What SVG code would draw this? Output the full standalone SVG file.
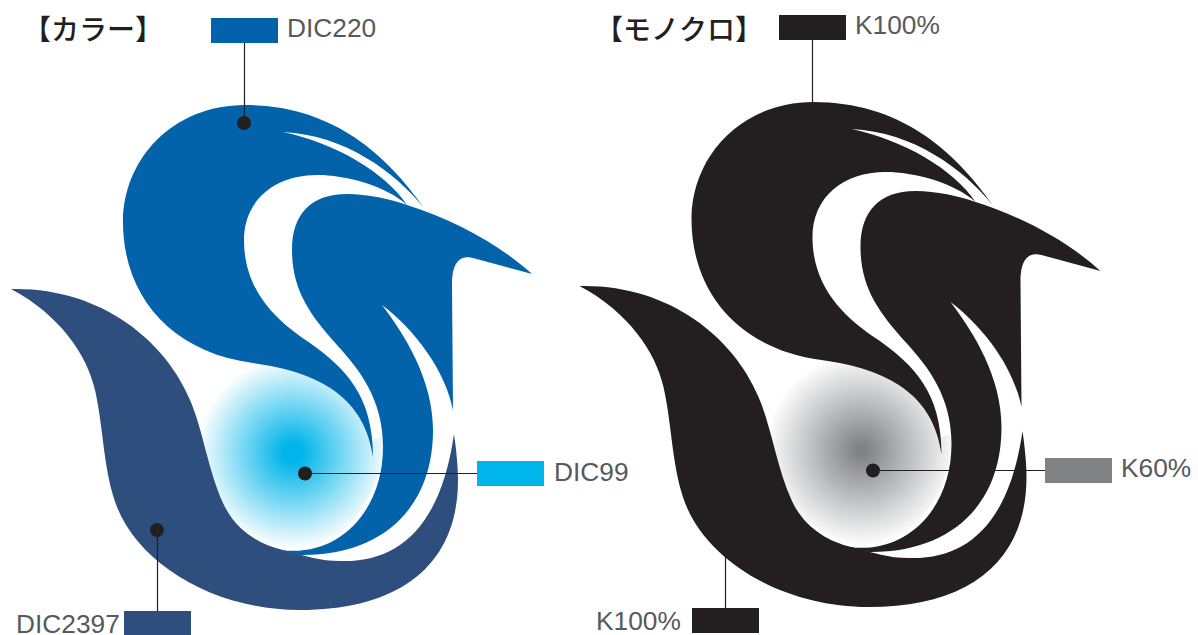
<svg xmlns="http://www.w3.org/2000/svg" width="1198" height="635" viewBox="0 0 1198 635">
<style>
.l{font-family:"Liberation Sans",Arial,sans-serif;font-size:26.300px;fill:#58595b}
.h{font-family:"Noto Sans CJK JP","Liberation Sans",sans-serif;font-size:28px;font-weight:500;fill:#231f20}
.c{stroke:#231f20;stroke-width:1.2;fill:none}
.d{fill:#231f20}
</style>
<defs>
<radialGradient id="gc" gradientUnits="userSpaceOnUse" cx="293" cy="453" r="96"><stop offset="0.1" stop-color="#00b5e9"/><stop offset="1" stop-color="#fff"/></radialGradient>
<radialGradient id="gk" gradientUnits="userSpaceOnUse" cx="293" cy="453" r="96"><stop offset="0.05" stop-color="#808285"/><stop offset="1" stop-color="#fff"/></radialGradient>
<path id="eye" d="M190,345L260,355L340,375L373,440L384,435C384,500 340,552 283,553L200,500Z"/>
<path id="a" d="M245,105C330,105 385,152 424,208C395,172 345,135 283,132C335,143 385,172 407,205C385,185 345,175 317,175C275,175 244,200 244,240C244,290 275,320 310,343C345,368 373,395 373,457C365,398 320,372 253,363C170,352 123,295 123,222C123,160 172,105 245,105Z"/>
<path id="b" d="M407,205C455,220 500,245 532,274L473,258C460,255 452,262 452,285L453,410C445,370 415,330 382,305C405,335 433,380 433,430C433,510 380,556 300,555L280,550C340,558 383,510 383,447C383,400 360,370 337,345C310,315 292,290 292,250C292,215 310,194 347,194C368,194 390,199 407,205Z"/>
<path id="n" d="M11,289C100,287 165,340 190,400C203,430 208,470 223,503C235,530 260,545 283,550C305,556 320,561 340,561C400,563 441,525 454,434C456,448 458,465 458,480C458,565 400,610 300,610C215,610 140,565 117,507C103,470 104,430 95,390C87,355 60,315 11,289Z"/>
</defs>
<g id="color-mark">
<use href="#eye" fill="url(#gc)"/>
<use href="#n" fill="#2e4e7e"/>
<use href="#a" fill="#0263ab"/>
<use href="#b" fill="#0263ab"/>
</g>
<g id="mono-mark" transform="translate(568.5,-3)">
<use href="#eye" fill="url(#gk)"/>
<use href="#n" fill="#231f20"/>
<use href="#a" fill="#231f20"/>
<use href="#b" fill="#231f20"/>
</g>
<g id="connectors">
<path class="c" d="M244.500,43V123"/>
<path class="c" d="M157.500,530V611"/>
<path class="c" d="M305,473.500H477"/>
<path class="c" d="M812.500,40V103"/>
<path class="c" d="M725.500,550V608"/>
<path class="c" d="M873,470.500H1045"/>
</g>
<g id="title-color"><text class="h" x="23" y="40">【カラー】</text></g>
<g id="title-mono"><text class="h" x="595" y="40">【モノクロ】</text></g>
<g id="swatch-dic220"><rect x="211" y="18" width="67" height="25" fill="#0263ab"/><circle class="d" cx="244" cy="123" r="7"/><text class="l" x="287" y="36.500">DIC220</text></g>
<g id="swatch-dic99"><rect x="477" y="461" width="67" height="25" fill="#00b5e9"/><circle class="d" cx="305" cy="473.500" r="7"/><text class="l" x="554" y="480.500">DIC99</text></g>
<g id="swatch-dic2397"><rect x="124" y="611" width="67" height="24" fill="#2e4e7e"/><circle class="d" cx="157" cy="530" r="7"/><text class="l" x="16" y="633">DIC2397</text></g>
<g id="swatch-k100-top"><rect x="779" y="15" width="67" height="25" fill="#231f20"/><text class="l" x="855" y="33.500">K100%</text></g>
<g id="swatch-k60"><rect x="1045" y="458" width="67" height="25" fill="#808285"/><circle class="d" cx="873" cy="470.500" r="7"/><text class="l" x="1121" y="477">K60%</text></g>
<g id="swatch-k100-bottom"><rect x="692" y="608" width="67" height="25" fill="#231f20"/><text class="l" x="596" y="630">K100%</text></g>
</svg>
